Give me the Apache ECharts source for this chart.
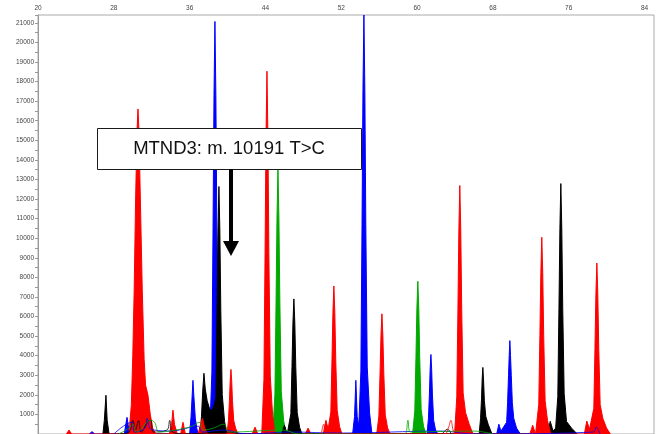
<!DOCTYPE html>
<html>
<head>
<meta charset="utf-8">
<script src="https://cdn.jsdelivr.net/npm/echarts@6/dist/echarts.min.js"></script>
<style>
  html, body { margin: 0; padding: 0; background: #fff; }
  #chart { width: 662px; height: 434px; }
</style>
</head>
<body>
<div id="chart"></div>
<script>
// peak traces, [size, height]
var redPeaks = [
  [23.0,0],[23.27,200],[23.55,0],
  [29.6,0],[29.85,1500],[30.0,4000],[30.15,7400],[30.3,12000],[30.45,15500],[30.55,16600],[30.65,15500],[30.8,12000],[31.0,7400],[31.2,3800],[31.35,2500],[31.6,2000],[31.85,1000],[32.1,300],[32.4,0],
  [33.85,0],[34.1,500],[34.24,1220],[34.4,500],[34.7,0],
  [35.05,0],[35.3,600],[35.55,0],
  [36.9,0],[37.1,400],[37.35,800],[37.6,300],[37.9,0],
  [39.95,0],[40.1,700],[40.2,1700],[40.28,2700],[40.36,3300],[40.44,2700],[40.52,1700],[40.65,700],[40.85,300],[41.1,0],
  [42.6,0],[42.9,350],[43.2,0],
  [43.61,0],[43.84,2780],[43.96,9270],[44.06,15190],[44.16,18530],[44.26,15190],[44.36,9270],[44.51,2960],[44.76,930],[45.01,0],
  [48.2,0],[48.5,300],[48.8,0],
  [50.1,0],[50.38,700],[50.62,250],[50.9,1130],[51.02,3780],[51.12,6200],[51.22,7560],[51.32,6200],[51.42,3780],[51.57,1210],[51.82,380],[52.07,0],
  [55.74,0],[55.97,920],[56.09,3070],[56.19,5030],[56.29,6140],[56.39,5030],[56.49,3070],[56.64,980],[56.89,310],[57.14,0],
  [63.96,0],[64.19,1900],[64.31,6350],[64.41,10410],[64.51,12690],[64.61,10410],[64.71,6350],[64.86,2100],[65.11,1100],[65.5,500],[65.9,0],
  [71.9,0],[72.2,450],[72.5,0],
  [72.61,0],[72.84,1510],[72.96,5030],[73.06,8240],[73.16,10050],[73.26,8240],[73.36,5030],[73.51,1700],[73.76,700],[74.1,0],
  [77.65,0],[77.91,660],[78.2,250],[78.65,1310],[78.77,4370],[78.87,7160],[78.97,8730],[79.07,7160],[79.17,4370],[79.32,1500],[79.6,800],[80.0,300],[80.4,0]
];
var bluePeaks = [
  [25.4,0],[25.7,120],[26.0,0],
  [29.1,0],[29.39,850],[29.6,200],[29.8,0],
  [36.0,0],[36.15,900],[36.27,2000],[36.35,2740],[36.45,1900],[36.6,800],[36.75,300],[36.9,0],
  [38.12,0],[38.35,3160],[38.47,10540],[38.57,17280],[38.67,21070],[38.77,17280],[38.87,10540],[39.02,3370],[39.27,1050],[39.52,0],
  [53.2,0],[53.4,900],[53.54,2740],[53.68,900],[53.85,400],[54.07,3210],[54.19,10700],[54.29,17550],[54.39,21400],[54.49,17550],[54.59,10700],[54.74,3420],[54.99,1070],[55.24,0],
  [61.05,0],[61.2,800],[61.3,2000],[61.38,3300],[61.46,4060],[61.54,3300],[61.62,2000],[61.75,700],[61.95,200],[62.2,0],
  [68.4,0],[68.63,500],[68.85,150],[69.45,600],[69.55,1600],[69.65,3000],[69.72,4000],[69.79,4770],[69.86,4000],[69.94,3000],[70.05,1600],[70.2,800],[70.5,300],[70.9,0]
];
var greenPeaks = [
  [44.77,0],[45.0,2030],[45.12,6750],[45.22,11070],[45.32,13500],[45.42,11070],[45.52,6750],[45.67,2160],[45.92,680],[46.17,0],
  [59.53,0],[59.76,1170],[59.88,3900],[59.98,6400],[60.08,7800],[60.18,6400],[60.28,3900],[60.43,1250],[60.68,390],[60.93,0],
  [75.8,0],[76.0,300],[76.25,0]
];
var blackPeaks = [
  [26.85,0],[27.0,700],[27.17,1980],[27.3,700],[27.5,0],
  [37.1,0],[37.25,900],[37.38,2200],[37.51,3100],[37.65,2300],[37.85,1700],[38.1,1300],[38.35,1200],[38.6,1500],
  [38.77,1900],[38.89,6320],[38.99,10360],[39.09,12640],[39.19,10360],[39.29,6320],[39.44,2020],[39.69,630],[39.94,0],
  [45.7,0],[46.0,450],[46.3,0],
  [46.45,0],[46.68,1040],[46.8,3450],[46.9,5660],[47.0,6900],[47.1,5660],[47.2,3450],[47.35,1100],[47.6,350],[47.85,0],
  [66.55,0],[66.7,800],[66.8,1800],[66.87,2800],[66.94,3400],[67.02,2700],[67.1,1700],[67.25,900],[67.5,500],[67.9,0],
  [73.8,0],[74.05,650],[74.35,150],[74.62,300],[74.85,1920],[74.97,6400],[75.07,10490],[75.17,12790],[75.27,10490],[75.37,6400],[75.52,2050],[75.77,640],[76.3,300],[76.9,0]
];
// thin unfilled baseline traces
var blackNoise = [[28.5,0],[29.6,100],[30.0,700],[30.3,200],[30.6,700],[30.9,100],[31.6,650],[31.9,700],[32.2,100],[33.6,200],[33.9,700],[34.2,100],[35.5,0],[40.0,100],[41.5,0],[62.5,0],[63.2,250],[63.6,0]];
var blueNoise = [[28.0,0],[29.9,600],[30.2,100],[31.3,300],[31.5,800],[31.8,300],[32.3,200],[34.0,150],[36.9,400],[37.3,100],[39.6,200],[42.0,0],[46.5,100],[52.0,50],[62.5,150],[66.0,0],[78.6,100],[78.9,350],[79.3,0]];
var greenNoise = [[28.5,0],[29.6,300],[30.0,500],[30.4,100],[31.9,700],[32.3,600],[32.8,100],[34.5,200],[36.3,400],[37.0,600],[37.5,200],[38.5,300],[39.6,500],[40.2,100],[45.9,200],[47.5,0],[58.7,0],[59.03,700],[59.3,100],[66.0,150],[68.0,0]];
var redNoise = [[49.9,0],[50.15,500],[50.4,0],[62.9,0],[63.3,300],[63.57,700],[63.8,200],[64.0,0]];

var yTickStep = 1000;
var xTickStep = 8;

function peakSeries(name, data, color, z) {
  return {
    name: name, type: 'line', data: data, z: z,
    showSymbol: false, silent: true, animation: false,
    lineStyle: { color: color, width: 1 },
    areaStyle: { color: color, opacity: 1 }
  };
}
function noiseSeries(name, data, color) {
  return {
    name: name, type: 'line', data: data, z: 9,
    showSymbol: false, silent: true, animation: false, smooth: 0.4,
    lineStyle: { color: color, width: 0.8 }
  };
}

var chart = echarts.init(document.getElementById('chart'), null, { renderer: 'canvas' });
chart.setOption({
  backgroundColor: '#fff',
  animation: false,
  grid: { left: 38, top: 15, width: 616, height: 421, show: true, borderColor: '#aaa', borderWidth: 1 },
  xAxis: {
    type: 'value', position: 'top', min: 20, max: 85, interval: xTickStep,
    axisLine: { lineStyle: { color: '#999' } },
    axisTick: { inside: true, length: 4, lineStyle: { color: '#999' } },
    minorTick: { show: true, splitNumber: 2, length: 4, lineStyle: { color: '#999' } },
    axisLabel: { fontSize: 6.5, color: '#444', margin: 3, showMaxLabel: false, fontFamily: 'Liberation Sans' },
    splitLine: { show: false }
  },
  yAxis: {
    type: 'value', min: 0, max: 21400, interval: yTickStep,
    axisLine: { show: true, lineStyle: { color: '#999' } },
    axisTick: { show: true, length: 3, lineStyle: { color: '#999' } },
    minorTick: { show: true, splitNumber: 2, length: 3, lineStyle: { color: '#999' } },
    axisLabel: { fontSize: 6.5, color: '#444', margin: 4, showMaxLabel: false, showMinLabel: false,
      fontFamily: 'Liberation Sans', formatter: function (v) { return String(v); } },
    splitLine: { show: false }
  },
  series: [
    peakSeries('blue', bluePeaks, '#0000ff', 2),
    peakSeries('green', greenPeaks, '#00aa00', 3),
    peakSeries('black', blackPeaks, '#000000', 4),
    peakSeries('red', redPeaks, '#ff0000', 5),
    noiseSeries('blackNoise', blackNoise, '#000000'),
    noiseSeries('blueNoise', blueNoise, '#0000ff'),
    noiseSeries('greenNoise', greenNoise, '#00aa00'),
    noiseSeries('redNoise', redNoise, '#ff0000')
  ],
  graphic: [
    { type: 'rect', z: 100, shape: { x: 97.5, y: 128.5, width: 264, height: 41 },
      style: { fill: '#fff', stroke: '#1a1a1a', lineWidth: 1 } },
    { type: 'text', z: 101, x: 229, y: 149,
      style: { text: 'MTND3: m. 10191 T>C', font: '18.5px "Liberation Sans", Arial, sans-serif', fill: '#111', align: 'center', verticalAlign: 'middle' } },
    { type: 'rect', z: 101, shape: { x: 229, y: 169, width: 4, height: 74 }, style: { fill: '#000' } },
    { type: 'polygon', z: 101, shape: { points: [[223, 241], [239, 241], [231, 256]] }, style: { fill: '#000' } }
  ]
});
</script>
</body>
</html>
